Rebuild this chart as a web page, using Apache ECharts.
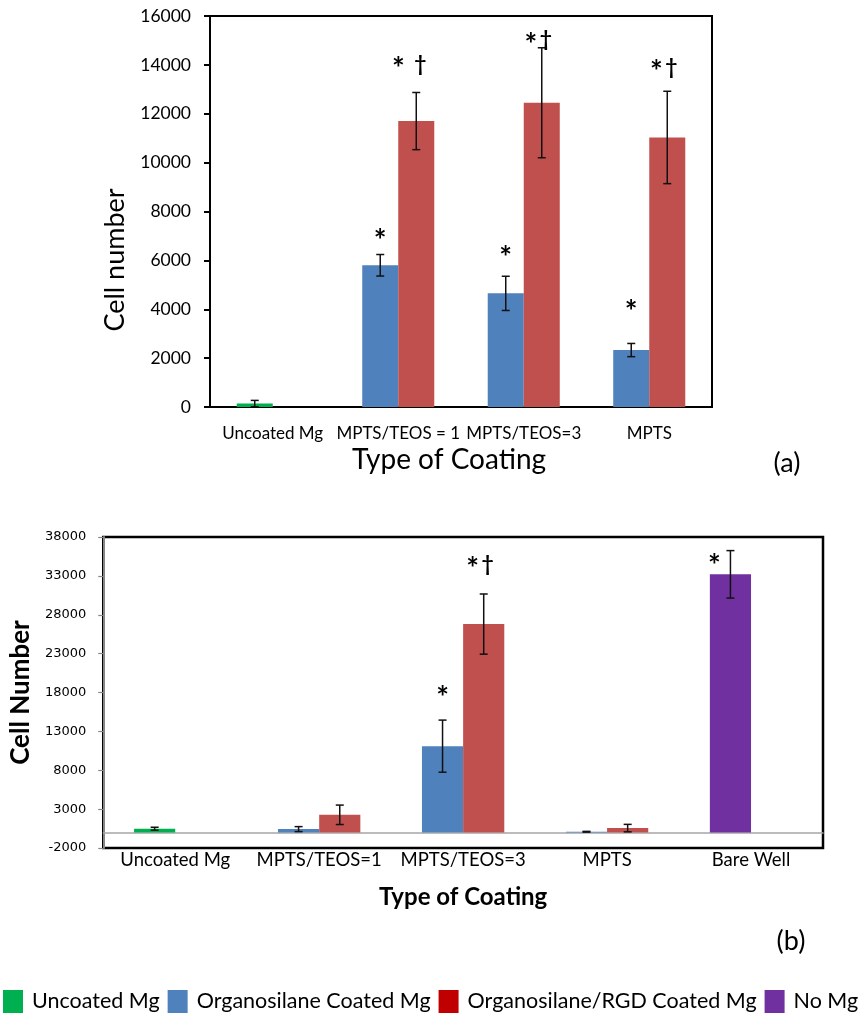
<!DOCTYPE html>
<html>
<head>
<meta charset="utf-8">
<script src="https://cdn.jsdelivr.net/npm/echarts@6/dist/echarts.min.js"></script>
<style>html,body{margin:0;padding:0;background:#fff;}#chart{width:866px;height:1016px;}</style>
</head>
<body>
<div id="chart"></div>
<script>
// ---- data: chart (a)
const catsA = ['Uncoated Mg', 'MPTS/TEOS = 1', 'MPTS/TEOS=3', 'MPTS'];
const coatedA = [140, 5800, 4650, 2330];
const coatedErrA = [130, 440, 700, 270];
const rgdA = [null, 11700, 12450, 11030];
const rgdErrA = [null, 1170, 2250, 1890];
const ticksA = { min: 0, max: 16000, step: 2000 };
// annotations: [category index, series (0 left / 1 right), value, text]
const annotA = [[1, 0, 7100, '*'], [1, 1, 14125, '* \u2020'], [2, 0, 6390, '*'], [2, 1, 15115, '*\u2020'], [3, 0, 4173, '*'], [3, 1, 14000, '*\u2020']];

// ---- data: chart (b)
const catsB = ['Uncoated Mg', 'MPTS/TEOS=1', 'MPTS/TEOS=3', 'MPTS', 'Bare Well'];
const coatedB = [480, 430, 11100, 90, 33200];
const coatedErrB = [190, 320, 3350, 50, 3050];
const rgdB = [null, 2270, 26800, 560, null];
const rgdErrB = [null, 1250, 3870, 480, null];
const ticksB = { min: -2000, max: 38000, step: 5000 };
const annotB = [[2, 0, 18225, '*'], [2, 1, 34780, '*\u2020'], [4, 0, 35210, '*']];

const legendNames = ['Uncoated Mg', 'Organosilane Coated Mg', 'Organosilane/RGD Coated Mg', 'No Mg'];

// ---- styles
const GREEN = '#00B050', BLUE = '#4F81BD', RED = '#C0504D', PURPLE = '#7030A0', LEG_RED = '#C00000';
const legendColors = [GREEN, BLUE, LEG_RED, PURPLE];
const FONT = 'Lato';
const FRAC_A = 0.287, FRAC_B = 0.286;

function leftColor(name) {
  if (name === 'Uncoated Mg') return GREEN;
  if (name === 'Bare Well') return PURPLE;
  return BLUE;
}

function errData(vals, errs) {
  const out = [];
  vals.forEach((v, i) => { if (v != null && errs[i] != null) out.push([i, v, errs[i]]); });
  return out;
}

function errRender(slot, frac) {
  return function (params, api) {
    const x = api.value(0), v = api.value(1), e = api.value(2);
    const band = api.size([1, 0])[0];
    const off = (slot === 0 ? -1 : 1) * band * frac / 2;
    const t = api.coord([x, v + e]);
    const b = api.coord([x, v - e]);
    const cx = t[0] + off;
    const cap = 4;
    const st = { stroke: '#111', lineWidth: 1.5 };
    return {
      type: 'group',
      children: [
        { type: 'line', shape: { x1: cx, y1: t[1], x2: cx, y2: b[1] }, style: st },
        { type: 'line', shape: { x1: cx - cap, y1: t[1], x2: cx + cap, y2: t[1] }, style: st },
        { type: 'line', shape: { x1: cx - cap, y1: b[1], x2: cx + cap, y2: b[1] }, style: st }
      ]
    };
  };
}

function glyph(txt, x, y, size) {
  return { type: 'text', x: x, y: y,
    style: { text: txt, fontFamily: FONT, fontSize: size, fontWeight: 'bold', fill: '#000', align: 'center', verticalAlign: 'middle' } };
}

function annotRender(list, frac, dxMap) {
  return function (params, api) {
    const item = list[params.dataIndex];
    const x = item[0], slot = item[1], v = item[2], txt = item[3];
    const band = api.size([1, 0])[0];
    const off = (slot === 0 ? -1 : 1) * band * frac / 2;
    const p = api.coord([x, v]);
    let cx = p[0] + off;
    if (dxMap && dxMap[params.dataIndex] != null) cx += dxMap[params.dataIndex];
    const yc = p[1];
    if (txt.indexOf('\u2020') >= 0) {
      const dagX = cx + 4;
      const starX = dagX - (txt.indexOf(' ') >= 0 ? 22 : 15);
      return { type: 'group', children: [glyph('*', starX, yc + 7.5, 30), glyph('\u2020', dagX, yc + 2, 21)] };
    }
    return glyph('*', cx, yc + 7.5, 30);
  };
}

const nullToDash = a => a.map(v => v == null ? '-' : v);
const plain = v => String(v);

const chart = echarts.init(document.getElementById('chart'), null, { renderer: 'canvas' });

const option = {
  animation: false,
  backgroundColor: '#fff',
  grid: [
    { left: 210, top: 16, width: 502, height: 391, show: true, borderColor: '#000', borderWidth: 2, backgroundColor: 'transparent' },
    { left: 103, top: 537, width: 720, height: 311, show: true, borderColor: '#000', borderWidth: 2.5, backgroundColor: 'transparent' }
  ],
  legend: {
    data: legendNames.map((n, i) => ({ name: n, itemStyle: { color: legendColors[i] } })),
    left: 3, top: 990, padding: 0,
    itemWidth: 20, itemHeight: 23, itemGap: 8, icon: 'rect',
    selectedMode: false,
    textStyle: { fontFamily: FONT, fontSize: 21.5, color: '#000', padding: [0, 0, 0, 4] }
  },
  xAxis: [
    {
      type: 'category', gridIndex: 0, data: catsA,
      axisLine: { lineStyle: { color: '#000', width: 2 } },
      axisTick: { length: 6, lineStyle: { color: '#000', width: 2 } },
      axisLabel: { fontFamily: FONT, fontSize: 17, color: '#000', margin: 18, interval: 0 },
      name: 'Type of Coating', nameLocation: 'middle', nameGap: 39,
      nameTextStyle: { fontFamily: FONT, fontSize: 28, color: '#000', padding: [0, 24, 0, 0] }
    },
    {
      type: 'category', gridIndex: 1, data: catsB,
      axisLine: { onZero: true, lineStyle: { color: '#A6A6A6', width: 1.5 } },
      axisTick: { length: 6, lineStyle: { color: '#A6A6A6', width: 1.2 } },
      axisLabel: { fontFamily: FONT, fontSize: 18.5, color: '#000', margin: 3, interval: 0 },
      name: 'Type of Coating', nameLocation: 'middle', nameGap: 37,
      nameTextStyle: { fontFamily: FONT, fontSize: 24, fontWeight: 'bold', color: '#000' }
    }
  ],
  yAxis: [
    {
      type: 'value', gridIndex: 0, min: ticksA.min, max: ticksA.max, interval: ticksA.step,
      splitLine: { show: false },
      axisLine: { show: true, lineStyle: { color: '#000', width: 2 } },
      axisTick: { show: true, length: 6, lineStyle: { color: '#000', width: 2 } },
      axisLabel: { fontFamily: FONT, fontSize: 17.5, color: '#000', margin: 19, formatter: plain }
    },
    {
      type: 'value', gridIndex: 1, min: ticksB.min, max: ticksB.max, interval: ticksB.step,
      splitLine: { show: false },
      axisLine: { show: true, lineStyle: { color: '#868686', width: 2 } },
      axisTick: { show: true, length: 5, lineStyle: { color: '#868686', width: 1.2 } },
      axisLabel: { fontFamily: 'DejaVu Sans', fontSize: 13, color: '#000', margin: 17, formatter: plain },
      name: 'Cell Number', nameLocation: 'middle', nameGap: 62,
      nameTextStyle: { fontFamily: FONT, fontSize: 26, fontWeight: 'bold', color: '#000' }
    }
  ],
  graphic: [
    { type: 'text', x: 115, y: 260, rotation: Math.PI / 2, style: { text: 'Cell number', fontFamily: FONT, fontSize: 27, fill: '#000', align: 'center', verticalAlign: 'middle' } },
    { type: 'text', x: 787, y: 463, style: { text: '(a)', fontFamily: FONT, fontSize: 27, fill: '#000', align: 'center', verticalAlign: 'middle' } },
    { type: 'text', x: 791, y: 941, style: { text: '(b)', fontFamily: FONT, fontSize: 27, fill: '#000', align: 'center', verticalAlign: 'middle' } }
  ],
  series: [
    { type: 'bar', name: 'a-coated', xAxisIndex: 0, yAxisIndex: 0, data: coatedA, barWidth: (FRAC_A * 100) + '%', barGap: '0%',
      itemStyle: { color: p => leftColor(p.name) } },
    { type: 'bar', name: 'a-rgd', xAxisIndex: 0, yAxisIndex: 0, data: nullToDash(rgdA), barWidth: (FRAC_A * 100) + '%', barGap: '0%',
      itemStyle: { color: RED } },
    { type: 'custom', name: 'a-err1', xAxisIndex: 0, yAxisIndex: 0, data: errData(coatedA, coatedErrA), renderItem: errRender(0, FRAC_A), z: 10 },
    { type: 'custom', name: 'a-err2', xAxisIndex: 0, yAxisIndex: 0, data: errData(rgdA, rgdErrA), renderItem: errRender(1, FRAC_A), z: 10 },
    { type: 'custom', name: 'a-annot', xAxisIndex: 0, yAxisIndex: 0, data: annotA.map(a => [a[0], a[2]]), renderItem: annotRender(annotA, FRAC_A), z: 11, clip: false },

    { type: 'bar', name: 'b-coated', xAxisIndex: 1, yAxisIndex: 1, data: coatedB, barWidth: (FRAC_B * 100) + '%', barGap: '0%',
      itemStyle: { color: p => leftColor(p.name) } },
    { type: 'bar', name: 'b-rgd', xAxisIndex: 1, yAxisIndex: 1, data: nullToDash(rgdB), barWidth: (FRAC_B * 100) + '%', barGap: '0%',
      itemStyle: { color: RED } },
    { type: 'custom', name: 'b-err1', xAxisIndex: 1, yAxisIndex: 1, data: errData(coatedB, coatedErrB), renderItem: errRender(0, FRAC_B), z: 10 },
    { type: 'custom', name: 'b-err2', xAxisIndex: 1, yAxisIndex: 1, data: errData(rgdB, rgdErrB), renderItem: errRender(1, FRAC_B), z: 10 },
    { type: 'custom', name: 'b-annot', xAxisIndex: 1, yAxisIndex: 1, data: annotB.map(a => [a[0], a[2]]), renderItem: annotRender(annotB, FRAC_B, { 2: -16 }), z: 11, clip: false },

    // legend entries
    { type: 'line', name: legendNames[0], xAxisIndex: 0, yAxisIndex: 0, data: [], itemStyle: { color: GREEN }, lineStyle: { color: GREEN } },
    { type: 'line', name: legendNames[1], xAxisIndex: 0, yAxisIndex: 0, data: [], itemStyle: { color: BLUE }, lineStyle: { color: BLUE } },
    { type: 'line', name: legendNames[2], xAxisIndex: 0, yAxisIndex: 0, data: [], itemStyle: { color: LEG_RED }, lineStyle: { color: LEG_RED } },
    { type: 'line', name: legendNames[3], xAxisIndex: 0, yAxisIndex: 0, data: [], itemStyle: { color: PURPLE }, lineStyle: { color: PURPLE } }
  ]
};
chart.setOption(option);
</script>
</body>
</html>
